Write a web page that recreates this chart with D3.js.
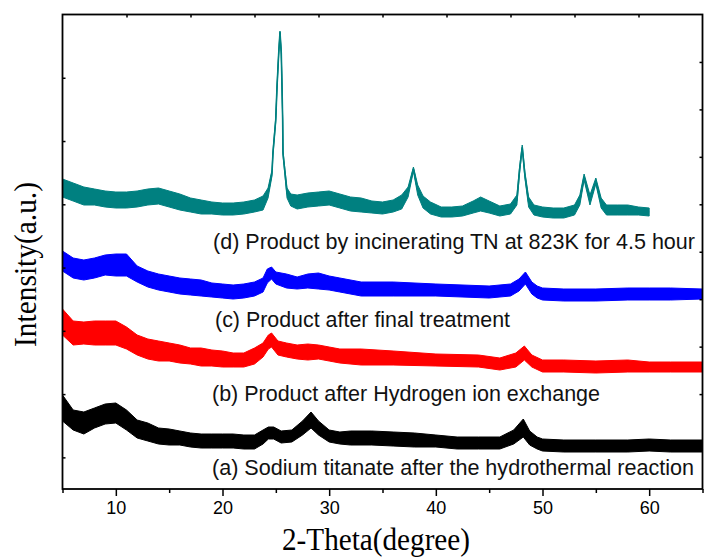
<!DOCTYPE html>
<html>
<head>
<meta charset="utf-8">
<script src="https://cdn.jsdelivr.net/npm/d3@7"></script>
<style>
  html, body { margin: 0; padding: 0; background: #fff; }
  svg { display: block; }
</style>
</head>
<body>
<div id="chart"></div>
<script>
// 2-theta ticks
var majorTicks = [10, 20, 30, 40, 50, 60];
var minorTicks = [5, 15, 25, 35, 45, 55, 65];

// (a) black trace: 2-theta, mean intensity, noise half-width (a.u.)
var thetaA = [5, 6, 7, 8, 9, 10, 11, 12, 13, 14, 15, 16, 17, 18, 19, 20, 21, 22, 23, 23.8, 24.3, 24.8, 25.5, 26.5, 27.5, 28.3, 29, 30, 31, 32, 34, 36, 38, 40, 42, 44, 46, 47.3, 48.2, 48.8, 49.5, 50, 52, 55, 58, 60, 62, 65];
var intA   = [81, 69, 66, 71, 75, 76, 69, 60, 57, 53, 52, 51, 49, 48, 48, 48, 48, 47, 47, 52, 56, 56, 52, 53, 61, 69, 61, 53, 51, 51, 51, 50, 49, 48, 46, 46, 46, 52, 61, 51, 46, 44, 43, 43, 43, 44, 43, 43];
var noiseA = [13, 10, 11, 10, 10, 10, 10, 9, 9, 8, 8, 7, 7, 7, 7, 7, 7, 7, 7, 7, 6, 6, 6, 6, 7, 8, 7, 6, 6, 7, 7, 7, 7, 6, 6, 6, 6, 7, 9, 7, 6, 6, 6, 6, 6, 6, 6, 6];

// (b) red trace
var thetaB = [5, 6, 7, 8, 9, 10, 11, 12, 13, 14, 15, 16, 17, 18, 19, 20, 21, 22, 23, 23.8, 24.3, 24.6, 25.2, 26, 27, 28, 29, 30, 31, 33, 36, 40, 44, 46, 47.5, 48.3, 49, 50, 52, 55, 58, 60, 62, 65];
var intB   = [167, 156, 156, 156, 156, 156, 151, 144, 140, 138, 137, 135, 133, 132, 131, 130, 129, 129, 133, 139, 147, 149, 141, 139, 137, 137, 137, 135, 133, 132, 131, 129, 128, 125, 129, 136, 128, 123, 123, 122, 123, 122, 122, 122];
var noiseB = [13, 12, 11, 12, 12, 12, 11, 10, 10, 10, 9, 9, 8, 9, 8, 8, 7, 7, 8, 7, 7, 7, 7, 7, 7, 8, 7, 7, 7, 8, 7, 6, 6, 6, 7, 7, 6, 6, 6, 6, 6, 5, 5, 5];

// (c) blue trace
var thetaC = [5, 6, 7, 8, 9, 10, 11, 12, 13, 14, 15, 16, 17, 18, 19, 20, 21, 22, 23, 23.8, 24.2, 24.6, 25, 26, 27, 28, 29, 30, 31, 33, 36, 40, 45, 47, 47.8, 48.4, 49, 49.5, 50, 52, 55, 58, 60, 62, 65];
var intC   = [228, 221, 219, 221, 224, 224, 224, 215, 210, 207, 205, 203, 202, 201, 199, 198, 197, 198, 200, 204, 213, 216, 211, 208, 206, 208, 208, 206, 204, 200, 200, 199, 197, 199, 204, 211, 201, 197, 195, 194, 194, 195, 195, 195, 195];
var noiseC = [10, 10, 10, 10, 10, 11, 11, 8, 8, 8, 8, 8, 8, 8, 7, 7, 7, 7, 7, 7, 7, 6, 6, 7, 6, 7, 8, 7, 7, 7, 7, 6, 6, 6, 6, 6, 6, 6, 6, 6, 6, 6, 6, 6, 5];

// (d) teal trace
var thetaD = [5, 6, 7, 8, 9, 10, 11, 12, 13, 14, 15, 16, 17, 18, 19, 20, 21, 22, 23, 23.8, 24.27, 24.64, 24.73, 24.99, 25.11, 25.27, 25.39, 25.51, 25.58, 25.64, 25.67, 25.86, 26.05, 26.4, 27, 28, 29, 30, 31, 32, 33, 34, 35, 36, 36.8, 37.4, 37.9, 38.3, 38.8, 39.5, 40.5, 41.5, 42.5, 43.5, 44.2, 45, 46, 47, 47.6, 47.85, 48.1, 48.35, 48.7, 49.2, 50, 51, 52, 53, 53.5, 53.9, 54.45, 55, 55.5, 56, 57, 58, 59, 60];
var intD   = [301, 297, 293, 292, 290, 289, 289, 290, 292, 293, 290, 287, 284, 282, 281, 280, 280, 281, 283, 286, 296, 316, 336, 369, 402, 436, 457, 436, 402, 369, 336, 316, 296, 289, 287, 289, 290, 291, 288, 285, 284, 282, 281, 283, 287, 297, 320, 299, 287, 281, 277, 277, 278, 282, 285, 282, 278, 280, 289, 319, 342, 314, 287, 279, 277, 276, 276, 279, 289, 312, 289, 308, 286, 279, 279, 279, 278, 277];
var noiseD = [9, 9, 9, 8, 8, 8, 8, 8, 8, 8, 8, 8, 7, 7, 6, 6, 6, 6, 6, 7, 5, 3, 2, 2, 2, 1.5, 1, 1.5, 2, 2, 2, 3, 5, 6, 7, 7, 7, 7, 7, 7, 7, 6, 6, 6, 7, 5, 2, 5, 6, 6, 5, 5, 5, 6, 7, 6, 5, 5, 5, 3, 2, 3, 5, 5, 5, 5, 5, 5, 5, 3, 5, 3, 5, 5, 5, 5, 4, 4];

var traceNames  = ['a', 'b', 'c', 'd'];
var traceLabels = [
  '(a) Sodium titanate after the hydrothermal reaction',
  '(b) Product after Hydrogen ion exchange',
  '(c) Product after final treatment',
  '(d) Product by incinerating TN at 823K for 4.5 hour'
];

var W = 704, H = 558;
var plotL = 62.5, plotR = 702.5, plotT = 14.5, plotB = 489;

var svg = d3.select('#chart').append('svg')
  .attr('width', W)
  .attr('height', H);

var x = d3.scaleLinear().domain([5, 65]).range([plotL, plotR]);
var yMax = plotB - plotT;
var y = d3.scaleLinear().domain([0, yMax]).range([plotB, plotT]);

var makeSeries = function(t, v, n) {
  return t.map(function(d, i) { return { t: d, v: v[i], n: n[i] }; });
};

var series = {
  a: makeSeries(thetaA, intA, noiseA),
  b: makeSeries(thetaB, intB, noiseB),
  c: makeSeries(thetaC, intC, noiseC),
  d: makeSeries(thetaD, intD, noiseD)
};
var colors = { a: '#000000', b: '#ff0000', c: '#0000ff', d: '#008080' };

var band = d3.area()
  .x(function(d) { return x(d.t); })
  .y0(function(d) { return y(d.v - d.n); })
  .y1(function(d) { return y(d.v + d.n); });

var line = d3.line()
  .x(function(d) { return x(d.t); })
  .y(function(d) { return y(d.v); });

traceNames.forEach(function(k) {
  var g = svg.append('g').attr('class', 'trace-' + k);
  g.append('path')
    .attr('d', band(series[k]))
    .attr('fill', colors[k])
    .attr('stroke', colors[k])
    .attr('stroke-width', 1);
  g.append('path')
    .attr('d', line(series[k]))
    .attr('fill', 'none')
    .attr('stroke', colors[k])
    .attr('stroke-width', 1.6);
});

// trace labels: [x, baseline, width]
var labelPos = [[212, 474.5, 482], [212, 400.5, 388], [215, 326.5, 295], [213, 248.5, 482]];
traceLabels.forEach(function(txt, i) {
  svg.append('text')
    .attr('x', labelPos[i][0])
    .attr('y', labelPos[i][1])
    .attr('font-family', 'Liberation Sans, Arial, sans-serif')
    .attr('font-size', 22)
    .attr('fill', '#111')
    .attr('textLength', labelPos[i][2])
    .attr('lengthAdjust', 'spacingAndGlyphs')
    .text(txt);
});

// axes
var axisFont = 'Liberation Sans, Arial, sans-serif';

svg.append('g')
  .attr('transform', 'translate(0,' + plotB + ')')
  .call(d3.axisBottom(x).tickValues(majorTicks).tickSize(7).tickPadding(5).tickFormat(d3.format('d')))
  .call(function(g) {
    g.attr('font-size', 18).attr('font-family', axisFont);
    g.select('.domain').remove();
    g.selectAll('.tick line').attr('stroke-width', 1.5);
    g.selectAll('text').attr('fill', '#000');
  });

svg.append('g')
  .attr('transform', 'translate(0,' + plotB + ')')
  .call(d3.axisBottom(x).tickValues(minorTicks).tickSize(4).tickFormat(''))
  .call(function(g) {
    g.select('.domain').remove();
    g.selectAll('.tick line').attr('stroke-width', 1.5);
  });

var frac10 = d3.range(1, 10).map(function(i) { return i / 10; });
var leftFrac = d3.range(1, 8).map(function(i) { return (i - 0.5) / 7.5; });

svg.append('g')
  .attr('transform', 'translate(0,' + plotT + ')')
  .call(d3.axisTop(x).tickValues(frac10.map(function(f) { return 5 + 60 * f; })).tickSize(-3).tickFormat(''))
  .call(function(g) { g.select('.domain').remove(); g.selectAll('.tick line').attr('stroke-width', 1.5); });

svg.append('g')
  .attr('transform', 'translate(' + plotL + ',0)')
  .call(d3.axisLeft(y).tickValues(leftFrac.map(function(f) { return f * yMax; })).tickSize(-3).tickFormat(''))
  .call(function(g) { g.select('.domain').remove(); g.selectAll('.tick line').attr('stroke-width', 1.5); });

svg.append('g')
  .attr('transform', 'translate(' + plotR + ',0)')
  .call(d3.axisRight(y).tickValues(frac10.map(function(f) { return f * yMax; })).tickSize(-3).tickFormat(''))
  .call(function(g) { g.select('.domain').remove(); g.selectAll('.tick line').attr('stroke-width', 1.5); });

// frame
svg.append('rect')
  .attr('x', plotL)
  .attr('y', plotT)
  .attr('width', plotR - plotL)
  .attr('height', plotB - plotT)
  .attr('fill', 'none')
  .attr('stroke', '#000')
  .attr('stroke-width', 1.8);

// axis titles
svg.append('text')
  .attr('x', 282)
  .attr('y', 550)
  .attr('font-family', 'Liberation Serif, Times New Roman, serif')
  .attr('font-size', 31)
  .attr('textLength', 188)
  .attr('lengthAdjust', 'spacingAndGlyphs')
  .text('2-Theta(degree)');

svg.append('text')
  .attr('transform', 'translate(36,264.5) rotate(-90)')
  .attr('text-anchor', 'middle')
  .attr('font-family', 'Liberation Serif, Times New Roman, serif')
  .attr('font-size', 32)
  .attr('textLength', 165)
  .attr('lengthAdjust', 'spacingAndGlyphs')
  .text('Intensity(a.u.)');
</script>
</body>
</html>
